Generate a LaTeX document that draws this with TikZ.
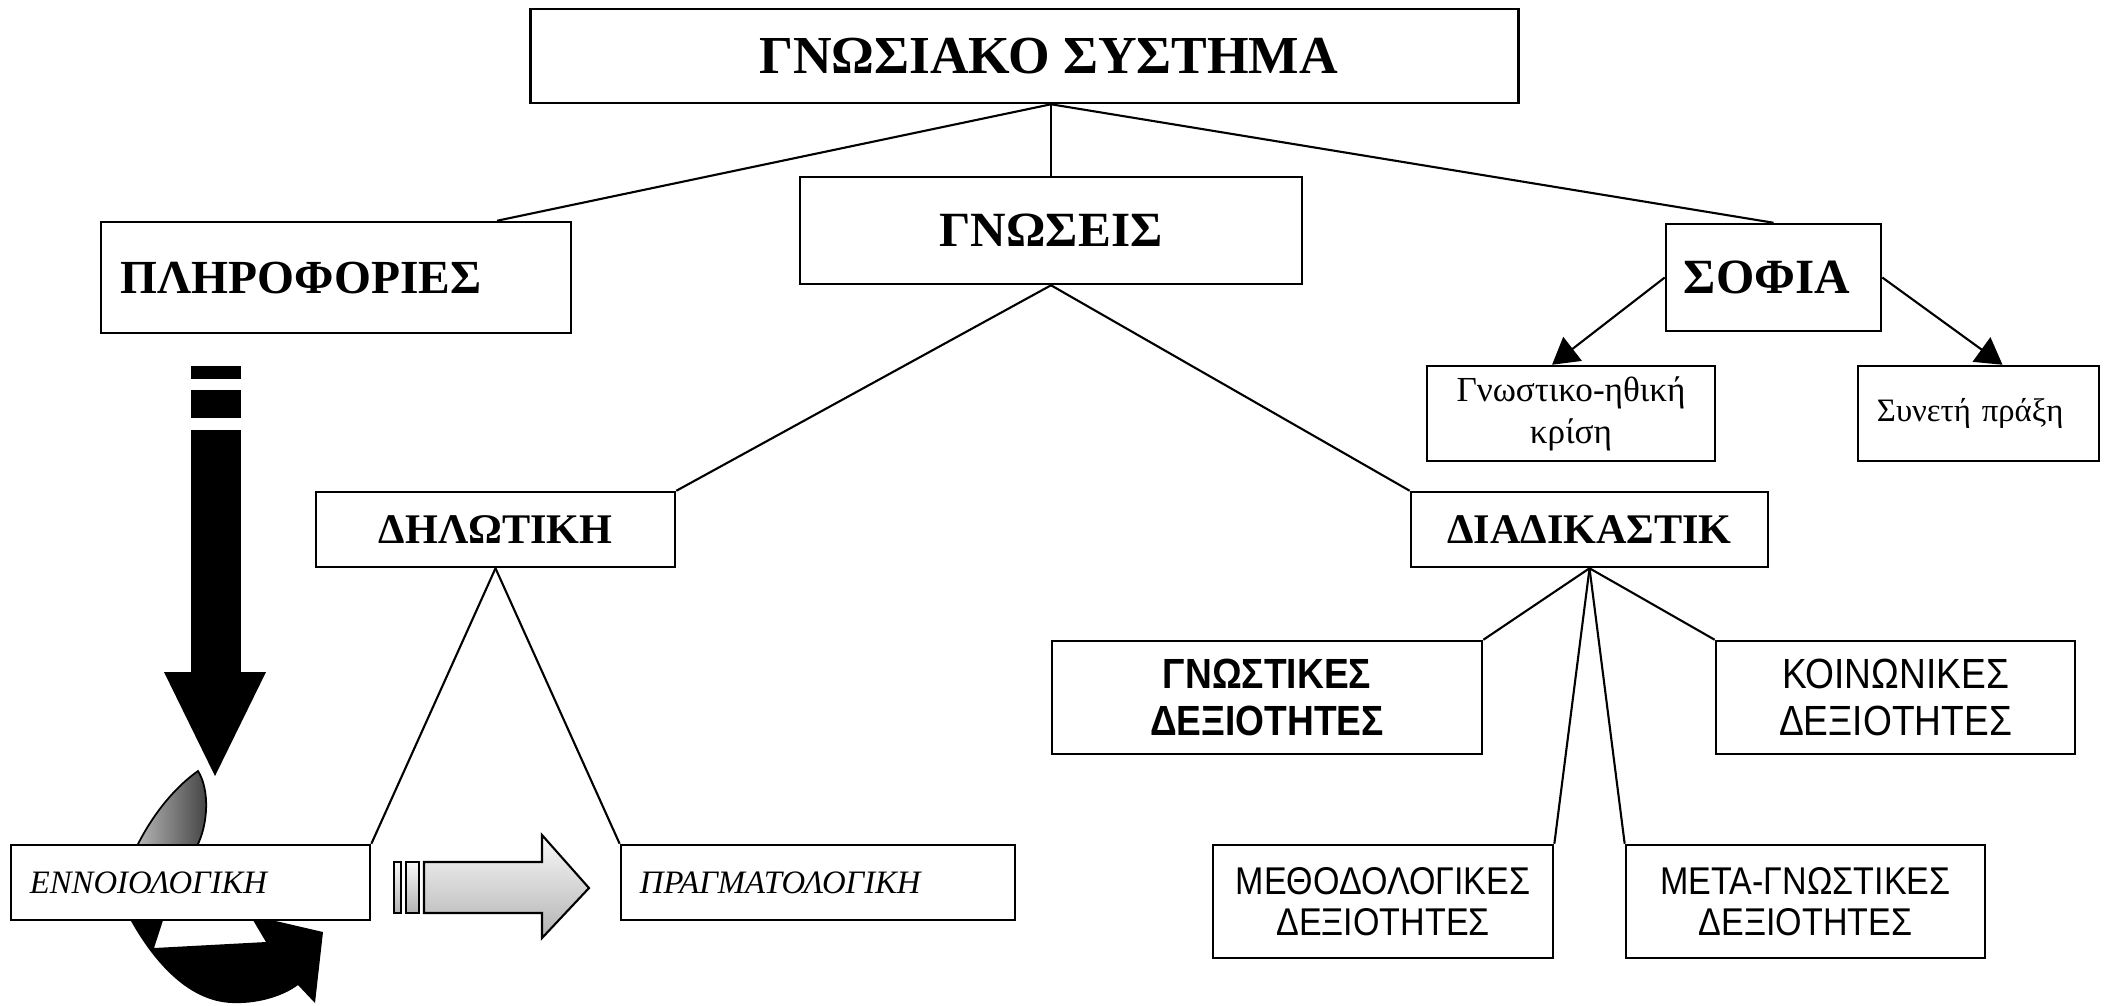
\documentclass[tikz,border=0pt]{standalone}
\usepackage{fontspec}
\setmainfont{Liberation Serif}
\newfontfamily\narrowsans[FakeStretch=0.88]{Liberation Sans}
\usetikzlibrary{arrows.meta, calc, backgrounds}

\begin{document}
\begin{tikzpicture}[
    x=0.01cm, y=-0.01cm,
    >={Triangle[length=0.26cm, width=0.3cm]},
    % Styles
    box/.style={rectangle, draw, line width=0.7pt, fill=white, inner sep=0pt},
    titlebox/.style={box, font=\fontsize{13.5}{16}\selectfont\bfseries},
    headbox/.style={box, font=\fontsize{12}{14}\selectfont\bfseries, minimum height=0.75cm},
    leafbox/.style={box, font=\fontsize{10}{12}\selectfont, align=center, minimum height=0.95cm},
    skillbox/.style={box, font=\narrowsans\fontsize{12}{13.5}\selectfont, align=center, minimum height=1.13cm},
    skillbold/.style={skillbox, font=\narrowsans\fontsize{12}{13.5}\selectfont\bfseries},
    kindbox/.style={box, font=\fontsize{9.3}{11}\selectfont\itshape, align=left, inner xsep=0.19cm, minimum height=0.75cm},
    link/.style={line width=0.6pt},
    blockarrow/.style={draw, line width=0.6pt, top color=gray!5, bottom color=gray!60}
]
\useasboundingbox (0,0) rectangle (2107,1005);

% --- Top level ---
\node[titlebox, font=\fontsize{15.2}{17}\selectfont\bfseries, minimum width=9.87cm, minimum height=0.94cm] (sys) at (1024.5,56) {\hspace*{0.48cm}ΓΝΩΣΙΑΚΟ ΣΥΣΤΗΜΑ};
\node[titlebox, font=\fontsize{14}{16}\selectfont\bfseries, minimum width=5.02cm, minimum height=1.07cm] (gn) at (1051,230.5) {ΓΝΩΣΕΙΣ};
\node[titlebox, align=left, inner xsep=0.2cm, text width=4.3cm, minimum height=1.11cm] (pl) at (336,277.5) {ΠΛΗΡΟΦΟΡΙΕΣ};
\node[titlebox, font=\fontsize{14}{16}\selectfont\bfseries, align=left, inner xsep=0.18cm, text width=1.79cm, minimum height=1.07cm] (sofia) at (1773.5,277.5) {ΣΟΦΙΑ};

\coordinate (hub) at (sys.south -| gn.north);
\draw[link] (hub) -- ($(pl.north)+(161,0)$);
\draw[link] (hub) -- (gn.north);
\draw[link] (hub) -- (sofia.north);

% --- Wisdom ---
\node[leafbox, minimum width=2.88cm] (krisi) at (1571,413.5) {Γνωστικο-ηθική\\κρίση};
\node[leafbox, font=\fontsize{9.3}{12}\selectfont, align=left, inner xsep=0.19cm, text width=2.03cm] (praxi) at (1978.5,413.5) {Συνετή πράξη};
\draw[link, ->] (sofia.west) -- ($(krisi.north)+(-19,0)$);
\draw[link, ->] (sofia.east) -- ($(praxi.north)+(24,0)$);

% --- Knowledge types ---
\node[headbox, minimum width=3.59cm] (dil) at (495.5,529.5) {ΔΗΛΩΤΙΚΗ};
\node[headbox, minimum width=3.57cm] (diad) at (1589.5,529.5) {ΔΙΑΔΙΚΑΣΤΙΚ};
\draw[link] (gn.south) -- (dil.north east);
\draw[link] (gn.south) -- (diad.north west);

% --- Declarative ---
\node[kindbox, text width=3.21cm] (enn) at (190.5,882.5) {ΕΝΝΟΙΟΛΟΓΙΚΗ};
\node[kindbox, text width=3.56cm] (prag) at (818,882.5) {ΠΡΑΓΜΑΤΟΛΟΓΙΚΗ};
\draw[link] (dil.south) -- (enn.north east);
\draw[link] (dil.south) -- (prag.north west);

% --- Procedural ---
\node[skillbold, minimum width=4.3cm] (gnd) at (1267,697.5) {ΓΝΩΣΤΙΚΕΣ\\ΔΕΞΙΟΤΗΤΕΣ};
\node[skillbox, minimum width=3.59cm] (koin) at (1895.5,697.5) {ΚΟΙΝΩΝΙΚΕΣ\\ΔΕΞΙΟΤΗΤΕΣ};
\node[skillbox, minimum width=3.4cm, font=\narrowsans\fontsize{11}{11.5}\selectfont] (meth) at (1383,901.5) {ΜΕΘΟΔΟΛΟΓΙΚΕΣ\\ΔΕΞΙΟΤΗΤΕΣ};
\node[skillbox, minimum width=3.59cm, font=\narrowsans\fontsize{11}{11.5}\selectfont] (meta) at (1805.5,901.5) {ΜΕΤΑ-ΓΝΩΣΤΙΚΕΣ\\ΔΕΞΙΟΤΗΤΕΣ};
\draw[link] (diad.south) -- (gnd.north east);
\draw[link] (diad.south) -- (koin.north west);
\draw[link] (diad.south) -- (meth.north east);
\draw[link] (diad.south) -- (meta.north west);

% --- Block arrows ---
\fill (191,366) rectangle (241,379);
\fill (191,390) rectangle (241,418);
\fill (191,430) rectangle (241,672);
\fill (164,672) -- (266,672) -- (215,776) -- cycle;

\draw[blockarrow] (394,862) rectangle (401,913);
\draw[blockarrow] (406,862) rectangle (419,913);
\draw[blockarrow] (424,862) -- (542,862) -- (542,835) -- (589,888) -- (542,938) -- (542,913) -- (424,913) -- cycle;

% curved arrow behind ENNOIOLOGIKH
\begin{scope}[on background layer]
    \draw[line width=0.5pt, left color=black!25, right color=black!75]
        (131,860) -- (137,846) .. controls (155,810) and (178,785) .. (198,771)
        .. controls (210,790) and (208,825) .. (197,846) -- (194,860) -- cycle;
    \fill (125,905) -- (131,921) .. controls (150,955) and (185,1002) .. (233,1003)
        .. controls (260,1004) and (285,995) .. (298,985) -- (315,1003) -- (323,932)
        -- (250,915) -- (266,942) -- (154,948) -- (168,905) -- cycle;
\end{scope}

\end{tikzpicture}
\end{document}
